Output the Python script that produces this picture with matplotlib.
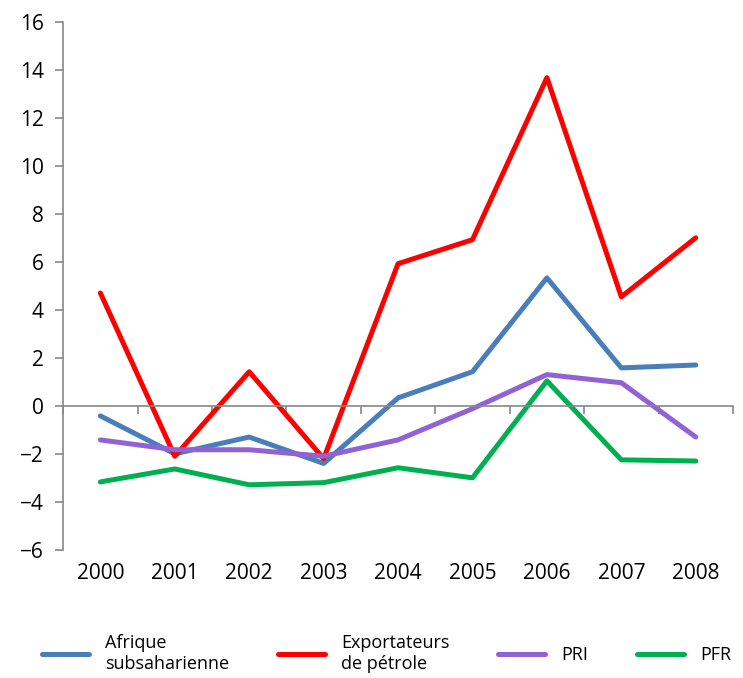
import matplotlib.pyplot as plt

years = ["2000", "2001", "2002", "2003", "2004", "2005", "2006", "2007", "2008"]
afrique = [-0.42, -2.0, -1.3, -2.4, 0.33, 1.42, 5.33, 1.58, 1.7]
exportateurs = [4.7, -2.1, 1.42, -2.2, 5.92, 6.92, 13.67, 4.54, 7.0]
pri = [-1.42, -1.83, -1.83, -2.1, -1.42, -0.12, 1.3, 0.96, -1.3]
pfr = [-3.17, -2.63, -3.29, -3.2, -2.58, -3.0, 1.04, -2.25, -2.3]

series = [
    ("Afrique\nsubsaharienne", afrique, "#4A7EBB"),
    ("Exportateurs\nde pétrole", exportateurs, "#FF0000"),
    ("PRI", pri, "#9162D6"),
    ("PFR", pfr, "#00B050"),
]

plt.rcParams["font.family"] = ["Open Sans", "DejaVu Sans"]

fig = plt.figure(figsize=(7.43, 6.78), dpi=100)
ax = fig.add_axes([0.085, 0.189, 0.9015, 0.779])

x = list(range(len(years)))
for label, vals, color in series:
    ax.plot(x, vals, color=color, lw=3.6, label=label, solid_capstyle="round")

ax.set_xlim(-0.5, len(years) - 0.5)
ax.set_ylim(-6, 16)
ax.set_yticks(range(-6, 17, 2))
ax.tick_params(axis="y", labelsize=15, length=6, color="#888888", width=1.2, pad=8)

for s in ["top", "right"]:
    ax.spines[s].set_visible(False)
ax.spines["left"].set_color("#888888")
ax.spines["left"].set_linewidth(1.2)
ax.spines["bottom"].set_position(("data", 0))
ax.spines["bottom"].set_color("#888888")
ax.spines["bottom"].set_linewidth(1.2)

ax.set_xticks([i - 0.5 for i in range(len(years) + 1)])
ax.set_xticklabels([])
ax.tick_params(axis="x", length=6, direction="out", color="#888888", width=1.2)

for i, yr in enumerate(years):
    ax.text(i, -0.045, yr, transform=ax.get_xaxis_transform(),
            ha="center", va="center", fontsize=15)

fig.legend(loc="lower center", ncol=4, frameon=False, fontsize=13,
           handlelength=2.6, columnspacing=2.7, handletextpad=0.9,
           bbox_to_anchor=(0.52, -0.016))

fig.savefig("out.png", dpi=100)
